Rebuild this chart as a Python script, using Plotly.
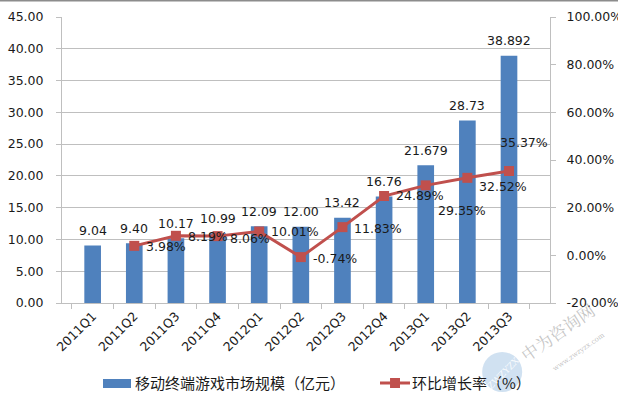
import plotly.graph_objects as go

quarters = ["2011Q1", "2011Q2", "2011Q3", "2011Q4", "2012Q1", "2012Q2",
            "2012Q3", "2012Q4", "2013Q1", "2013Q2", "2013Q3"]
market_size = [9.04, 9.40, 10.17, 10.99, 12.09, 12.00, 13.42, 16.76, 21.679, 28.73, 38.892]
market_labels = ["9.04", "9.40", "10.17", "10.99", "12.09", "12.00", "13.42", "16.76",
                 "21.679", "28.73", "38.892"]
growth = [None, 3.98, 8.19, 8.06, 10.01, -0.74, 11.83, 24.89, 29.35, 32.52, 35.37]
growth_labels = ["", "3.98%", "8.19%", "8.06%", "10.01%", "-0.74%", "11.83%", "24.89%",
                 "29.35%", "32.52%", "35.37%"]
series_names = ["移动终端游戏市场规模（亿元）", "环比增长率（%）"]

left_ticks = [0, 5, 10, 15, 20, 25, 30, 35, 40, 45]
left_tick_text = ["0.00", "5.00", "10.00", "15.00", "20.00", "25.00", "30.00", "35.00",
                  "40.00", "45.00"]
right_ticks = [-20, 0, 20, 40, 60, 80, 100]
right_tick_text = ["-20.00%", "0.00%", "20.00%", "40.00%", "60.00%", "80.00%", "100.00%"]

# label placement styling (pixel nudges for the growth-rate labels)
label_anchor = ["left"] * 10 + ["center"]
label_dx = [10, 10, 10, 10, 10, 10, 10, 10, 10, 10, 15]
label_dy = [0, -1, -1, -2, 0, -1, -1, 1, -25, -9, 29]

BAR = "#4F81BD"
LINE = "#C0504D"
GRID = "#BFBFBF"
TXT = "#1a1a1a"
NUMFONT = "DejaVu Sans"
CJK = "Noto Sans CJK SC"
FS = 12.5

fig = go.Figure()
fig.add_trace(go.Bar(
    x=quarters, y=market_size, name=series_names[0],
    marker=dict(color=BAR, line=dict(width=0)), width=0.4,
    yaxis="y", hoverinfo="x+y", showlegend=False,
))
fig.add_trace(go.Scatter(
    x=quarters, y=growth, name=series_names[1], mode="lines+markers",
    line=dict(color=LINE, width=3),
    marker=dict(symbol="square", size=10, color=LINE),
    yaxis="y2", cliponaxis=False, showlegend=False,
))

# bar value labels
for q, v, t in zip(quarters, market_size, market_labels):
    fig.add_annotation(x=q, y=v, xref="x", yref="y", text=t, showarrow=False,
                       yanchor="middle", yshift=15,
                       font=dict(family=NUMFONT, size=FS, color=TXT))

# growth labels
for i, (q, v, t) in enumerate(zip(quarters, growth, growth_labels)):
    if v is None:
        continue
    fig.add_annotation(x=q, y=v, xref="x", yref="y2", text=t, showarrow=False,
                       xanchor=label_anchor[i], yanchor="middle",
                       xshift=label_dx[i], yshift=label_dy[i],
                       font=dict(family=NUMFONT, size=FS, color=TXT))

fig.update_layout(
    width=618, height=397,
    margin=dict(l=62, r=68, t=17, b=94, autoexpand=False),
    paper_bgcolor="white", plot_bgcolor="white",
    font=dict(family=NUMFONT, size=FS, color=TXT),
    showlegend=False,
    xaxis=dict(
        type="category", categoryorder="array", categoryarray=quarters,
        tickangle=-45, tickson="boundaries", ticks="outside", ticklen=5,
        tickcolor=GRID, showline=True, linecolor=GRID, linewidth=1,
        showgrid=False, tickfont=dict(family=NUMFONT, size=FS, color=TXT),
    ),
    yaxis=dict(
        range=[0, 45], tickvals=left_ticks, ticktext=left_tick_text,
        showgrid=True, gridcolor=GRID, gridwidth=1,
        showline=True, linecolor=GRID, ticks="outside", ticklen=5, tickcolor=GRID,
        ticklabelstandoff=10,
        zeroline=False, tickfont=dict(family=NUMFONT, size=FS, color=TXT),
    ),
    yaxis2=dict(
        range=[-20, 100], tickvals=right_ticks, ticktext=right_tick_text,
        overlaying="y", side="right", showgrid=False,
        showline=True, linecolor=GRID, ticks="outside", ticklen=5, tickcolor=GRID,
        ticklabelstandoff=8,
        zeroline=False, tickfont=dict(family=NUMFONT, size=FS, color=TXT),
    ),
    bargap=0.6,
)

# legend (drawn as key shapes + text, matching the original's wide bar swatch)
LEG_Y = -0.2797
fig.add_shape(type="rect", xref="paper", yref="paper", x0=0.0840, x1=0.1414,
              y0=-0.2972, y1=-0.2657, fillcolor=BAR, line=dict(width=0))
fig.add_annotation(text=series_names[0], xref="paper", yref="paper", x=0.146, y=LEG_Y,
                   xanchor="left", yanchor="middle", showarrow=False,
                   font=dict(family=CJK, size=15, color=TXT))
fig.add_shape(type="line", xref="paper", yref="paper", x0=0.6516, x1=0.7131,
              y0=LEG_Y, y1=LEG_Y, line=dict(color=LINE, width=3))
fig.add_shape(type="rect", xref="paper", yref="paper", x0=0.6722, x1=0.6926,
              y0=LEG_Y - 0.0175, y1=LEG_Y + 0.0175, fillcolor=LINE, line=dict(width=0))
fig.add_annotation(text=series_names[1], xref="paper", yref="paper", x=0.714, y=LEG_Y,
                   xanchor="left", yanchor="middle", showarrow=False,
                   font=dict(family=CJK, size=15, color=TXT))

# top frame line of the image
fig.add_shape(type="line", xref="paper", yref="paper", x0=-0.13, x1=1.14,
              y0=1.058, y1=1.058, line=dict(color="#8c8c8c", width=2))

# faint watermark
fig.add_shape(type="circle", xref="paper", yref="paper", x0=0.861, x1=0.943,
              y0=-0.311, y1=-0.171, fillcolor="rgba(120,170,215,0.35)",
              line=dict(width=0), layer="above")
fig.add_annotation(text="ZWZYZX", xref="paper", yref="paper", x=0.905, y=-0.245,
                   xanchor="center", yanchor="middle",
                   showarrow=False, textangle=-45,
                   font=dict(family="DejaVu Serif", size=9, color="rgba(255,255,255,0.85)"))
fig.add_annotation(text="中为咨询网", xref="paper", yref="paper", x=1.016, y=-0.101,
                   xanchor="center", yanchor="middle",
                   showarrow=False, textangle=-35,
                   font=dict(family="Noto Serif CJK SC, Noto Sans CJK SC", size=17,
                             color="rgba(140,140,140,0.5)"))
fig.add_annotation(text="www.zwzyzx.com", xref="paper", yref="paper", x=1.059, y=-0.171,
                   xanchor="center", yanchor="middle",
                   showarrow=False, textangle=-35,
                   font=dict(family="DejaVu Serif", size=7, color="rgba(140,140,140,0.55)"))

fig.write_html("out.html", config={"displayModeBar": False},
               post_script="document.body.style.margin='0';")
